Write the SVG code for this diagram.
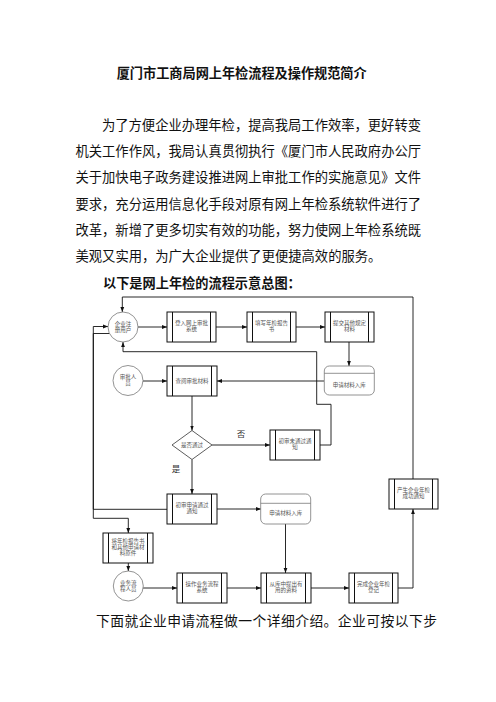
<svg xmlns="http://www.w3.org/2000/svg" width="496" height="702" viewBox="0 0 496 702">
<style>
.doc{font-family:"Liberation Serif","Noto Sans CJK SC",serif;fill:#111;}
.b{font-weight:bold;font-family:"Liberation Sans","Noto Sans CJK SC",sans-serif;}
.box{fill:#fff;stroke:#111;stroke-width:1;}
.bar{stroke:#111;stroke-width:1;}
.store{fill:#fff;stroke:#777;stroke-width:0.8;}
.lbl{font-family:"Liberation Serif","Noto Sans CJK SC",serif;font-size:5.5px;fill:#555;text-anchor:middle;}
.yn{font-family:"Liberation Serif","Noto Sans CJK SC",serif;font-size:8.5px;fill:#333;text-anchor:middle;}
.c{fill:none;stroke:#111;stroke-width:0.9;}
</style>
<defs>
<marker id="ah" markerUnits="userSpaceOnUse" markerWidth="5" markerHeight="5" viewBox="0 0 5 5" refX="5" refY="2.5" orient="auto">
<path d="M0,0.6 L5,2.5 L0,4.4 Z" fill="#111"/>
</marker>
</defs>
<rect width="496" height="702" fill="#fff"/>

<g id="text">
<text class="doc b" x="116.7" y="77.5" font-size="13.2" textLength="250" lengthAdjust="spacing">厦门市工商局网上年检流程及操作规范简介</text>
<text class="doc" x="102" y="129.5" font-size="13.3" textLength="319" lengthAdjust="spacing">为了方便企业办理年检，提高我局工作效率，更好转变</text>
<text class="doc" x="75.5" y="156" font-size="13.3" textLength="345.5" lengthAdjust="spacing">机关工作作风，我局认真贯彻执行《厦门市人民政府办公厅</text>
<text class="doc" x="75.5" y="182.3" font-size="13.3" textLength="345.5" lengthAdjust="spacing">关于加快电子政务建设推进网上审批工作的实施意见》文件</text>
<text class="doc" x="75.5" y="208.6" font-size="13.3" textLength="345.5" lengthAdjust="spacing">要求，充分运用信息化手段对原有网上年检系统软件进行了</text>
<text class="doc" x="75.5" y="234.9" font-size="13.3" textLength="345.5" lengthAdjust="spacing">改革，新增了更多切实有效的功能，努力使网上年检系统既</text>
<text class="doc" x="75.5" y="261.2" font-size="13.3">美观又实用，为广大企业提供了更便捷高效的服务。</text>
<text class="doc b" x="103" y="287.5" font-size="13.2">以下是网上年检的流程示意总图：</text>
<text class="doc" x="96" y="626" font-size="13.8" textLength="341" lengthAdjust="spacing">下面就企业申请流程做一个详细介绍。企业可按以下步</text>
</g>

<g id="connectors">
<path class="c" d="M138,327 H167" marker-end="url(#ah)"/>
<path class="c" d="M216,327 H247" marker-end="url(#ah)"/>
<path class="c" d="M296,327 H325" marker-end="url(#ah)"/>
<path class="c" d="M349,342 V366" marker-end="url(#ah)"/>
<path class="c" d="M324,381 H217" marker-end="url(#ah)"/>
<path class="c" d="M143,381 H167" marker-end="url(#ah)"/>
<path class="c" d="M192,396 V430.5" marker-end="url(#ah)"/>
<path class="c" d="M212,445 H270" marker-end="url(#ah)"/>
<path class="c" d="M320,445 H331 V404.3 H316.7 V351.7 H123 V342" marker-end="url(#ah)"/>
<path class="c" d="M192,459.5 V494" marker-end="url(#ah)"/>
<path class="c" d="M217,509 H261" marker-end="url(#ah)"/>
<path class="c" d="M167,509.3 H93.3 V326.5 H108" marker-end="url(#ah)"/>
<path class="c" d="M109.8,333.5 H93.3 V518.3 H128.3 V533" marker-end="url(#ah)"/>
<path class="c" d="M128.3,563 V571" marker-end="url(#ah)"/>
<path class="c" d="M143,588 H177" marker-end="url(#ah)"/>
<path class="c" d="M227,588 H261" marker-end="url(#ah)"/>
<path class="c" d="M311,588 H349" marker-end="url(#ah)"/>
<path class="c" d="M398,588 H413 V509" marker-end="url(#ah)"/>
<path class="c" d="M413,479 V297 H122.3 V312" marker-end="url(#ah)"/>
<path class="c" d="M285.5,524 V573" marker-end="url(#ah)"/>
</g>

<g id="n-user">
<circle cx="123" cy="327" r="15" fill="#fff" stroke="#777" stroke-width="0.8"/>
<text class="lbl" x="123" y="325.5">企业注</text>
<text class="lbl" x="123" y="331.5">册用户</text>
</g>
<g id="n-login">
<rect class="box" x="167" y="312" width="49" height="30"/>
<path class="bar" d="M172.5,312 V342 M210.5,312 V342"/>
<text class="lbl" x="191.5" y="325.3">登入网上审批</text>
<text class="lbl" x="191.5" y="331.3">系统</text>
</g>
<g id="n-fill">
<rect class="box" x="247" y="312" width="49" height="30"/>
<path class="bar" d="M252.5,312 V342 M290.5,312 V342"/>
<text class="lbl" x="271.5" y="325.3">填写年检报告</text>
<text class="lbl" x="271.5" y="331.3">书</text>
</g>
<g id="n-submit">
<rect class="box" x="325" y="312" width="49" height="30"/>
<path class="bar" d="M330.5,312 V342 M368.5,312 V342"/>
<text class="lbl" x="349.5" y="325.3">提交其他规定</text>
<text class="lbl" x="349.5" y="331.3">材料</text>
</g>
<g id="n-store1">
<rect class="store" x="324.3" y="366" width="50" height="29" rx="5"/>
<path d="M324.3,373.3 H374.3" stroke="#777" stroke-width="0.8"/>
<text class="lbl" x="349.3" y="387">申请材料入库</text>
</g>
<g id="n-reviewer">
<circle cx="128" cy="380.5" r="15" fill="#fff" stroke="#777" stroke-width="0.8"/>
<text class="lbl" x="128" y="379">审批人</text>
<text class="lbl" x="128" y="385">员</text>
</g>
<g id="n-check">
<rect class="box" x="167" y="366" width="50" height="30"/>
<path class="bar" d="M172.5,366 V396 M211.5,366 V396"/>
<text class="lbl" x="192" y="383">查阅审批材料</text>
</g>
<g id="n-decide">
<path d="M192,430.5 L212,445 L192,459.5 L172,445 Z" fill="#fff" stroke="#333" stroke-width="0.8"/>
<text class="lbl" x="192" y="447">是否通过</text>
</g>
<text class="yn" x="241" y="436.5">否</text>
<text class="yn" x="176" y="472">是</text>
<g id="n-fail">
<rect class="box" x="270" y="430" width="50" height="30"/>
<path class="bar" d="M275.5,430 V460 M314.5,430 V460"/>
<text class="lbl" x="295" y="443.3">初审未通过通</text>
<text class="lbl" x="295" y="449.3">知</text>
</g>
<g id="n-pass">
<rect class="box" x="167" y="494" width="50" height="30"/>
<path class="bar" d="M172.5,494 V524 M211.5,494 V524"/>
<text class="lbl" x="192" y="507.3">初审申请通过</text>
<text class="lbl" x="192" y="513.3">通知</text>
</g>
<g id="n-store2">
<rect class="store" x="260.7" y="494" width="50" height="30" rx="5"/>
<path d="M260.7,503.3 H310.7" stroke="#777" stroke-width="0.8"/>
<text class="lbl" x="285.7" y="515">申请材料入库</text>
</g>
<g id="n-success">
<rect class="box" x="389" y="479" width="49" height="30"/>
<path class="bar" d="M394.5,479 V509 M432.5,479 V509"/>
<text class="lbl" x="413.5" y="492.3">产生企业年检</text>
<text class="lbl" x="413.5" y="498.3">成功通知</text>
</g>
<g id="n-originals">
<rect class="box" x="103" y="533" width="50" height="30"/>
<path class="bar" d="M108.5,533 V563 M147.5,533 V563"/>
<text class="lbl" x="128" y="543">将年检报告书</text>
<text class="lbl" x="128" y="548.8">和其他申请材</text>
<text class="lbl" x="128" y="554.6">料原件</text>
</g>
<g id="n-staff">
<circle cx="128.3" cy="586" r="15" fill="#fff" stroke="#777" stroke-width="0.8"/>
<text class="lbl" x="128.3" y="584.5">业务流</text>
<text class="lbl" x="128.3" y="590.5">程人员</text>
</g>
<g id="n-operate">
<rect class="box" x="177" y="573" width="50" height="30"/>
<path class="bar" d="M182.5,573 V603 M221.5,573 V603"/>
<text class="lbl" x="202" y="586.3">操作业务流程</text>
<text class="lbl" x="202" y="592.3">系统</text>
</g>
<g id="n-extract">
<rect class="box" x="261" y="573" width="50" height="30"/>
<path class="bar" d="M266.5,573 V603 M305.5,573 V603"/>
<text class="lbl" x="286" y="586.3">从库中提出有</text>
<text class="lbl" x="286" y="592.3">用的资料</text>
</g>
<g id="n-complete">
<rect class="box" x="349" y="573" width="49" height="30"/>
<path class="bar" d="M354.5,573 V603 M392.5,573 V603"/>
<text class="lbl" x="373.5" y="586.3">完成企业年检</text>
<text class="lbl" x="373.5" y="592.3">登记</text>
</g>
</svg>
